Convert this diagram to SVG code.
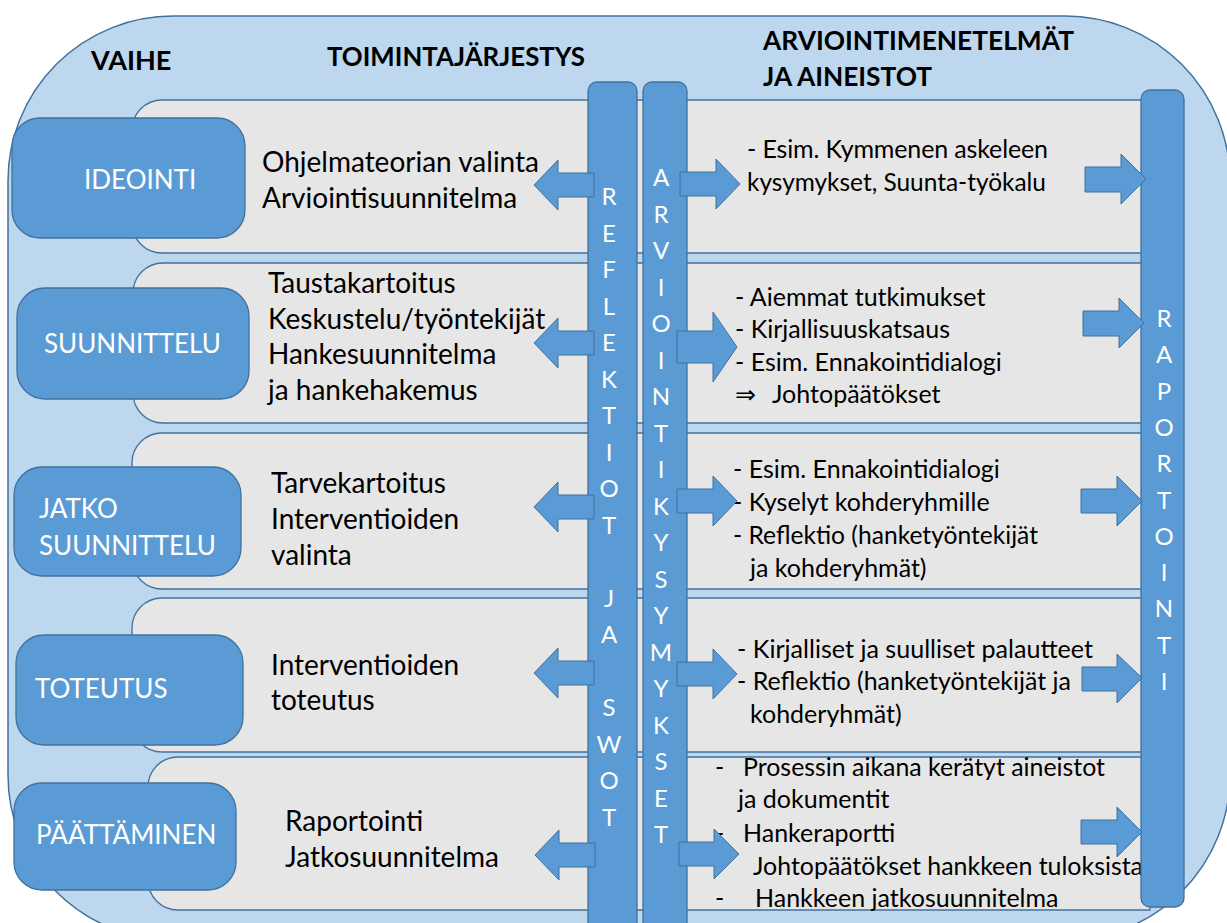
<svg xmlns="http://www.w3.org/2000/svg" width="1227" height="923" viewBox="0 0 1227 923">
<style>
.bg{fill:#BDD7EE;stroke:#41719C;stroke-width:1.5}
.row{fill:#E7E6E6;stroke:#41719C;stroke-width:1.3}
.phase{fill:#5B9BD5;stroke:#41719C;stroke-width:1.3}
.bar{fill:#5B9BD5;stroke:#41719C;stroke-width:1.3}
.arr{fill:#5B9BD5;stroke:#41719C;stroke-width:1}
.hd{font-family:Lato,"Liberation Sans",sans-serif;font-weight:bold;font-size:27px;fill:#000}
.lt{font-family:Lato,"Liberation Sans",sans-serif;font-size:28px;fill:#000}
.rt{font-family:Lato,"DejaVu Sans",sans-serif;font-size:25px;fill:#000}
.pl{font-family:Lato,"Liberation Sans",sans-serif;font-size:26px;fill:#fff}
.vl{font-family:Lato,"Liberation Sans",sans-serif;font-size:24px;fill:#fff;text-anchor:middle}
</style>
<g id="background">
<rect class="bg" x="8" y="16" width="1222" height="924" rx="165" ry="165"/>
</g>
<g id="headers">
<text class="hd" x="91" y="70" font-size="28">VAIHE</text>
<text class="hd" x="327" y="66" textLength="258" lengthAdjust="spacingAndGlyphs">TOIMINTAJÄRJESTYS</text>
<text class="hd" x="763" y="50" textLength="311" lengthAdjust="spacingAndGlyphs">ARVIOINTIMENETELMÄT</text>
<text class="hd" x="763" y="86" textLength="169" lengthAdjust="spacingAndGlyphs">JA AINEISTOT</text>
</g>
<g id="rows">
<path id="row-1" class="row" d="M162,100 H1150 V253 H162 A30,30 0 0 1 132,223 V130 A30,30 0 0 1 162,100 Z"/>
<path id="row-2" class="row" d="M163,263 H1150 V423 H163 A30,30 0 0 1 133,393 V293 A30,30 0 0 1 163,263 Z"/>
<path id="row-3" class="row" d="M162,433 H1150 V589 H162 A30,30 0 0 1 132,559 V463 A30,30 0 0 1 162,433 Z"/>
<path id="row-4" class="row" d="M162,598 H1150 V752 H162 A30,30 0 0 1 132,722 V628 A30,30 0 0 1 162,598 Z"/>
<path id="row-5" class="row" d="M178,757 H1150 V910 H178 A30,30 0 0 1 148,880 V787 A30,30 0 0 1 178,757 Z"/>
</g>
<g id="phase-ideointi">
<rect class="phase" x="12" y="118" width="233" height="120" rx="28"/>
<text class="pl" x="84" y="189">IDEOINTI</text>
</g>
<g id="phase-suunnittelu">
<rect class="phase" x="17" y="288" width="232" height="111" rx="28"/>
<text class="pl" x="44" y="353">SUUNNITTELU</text>
</g>
<g id="phase-jatkosuunnittelu">
<rect class="phase" x="14" y="467" width="227" height="109" rx="28"/>
<text class="pl" x="39" y="518">JATKO</text>
<text class="pl" x="39" y="555">SUUNNITTELU</text>
</g>
<g id="phase-toteutus">
<rect class="phase" x="16" y="635" width="227" height="110" rx="28"/>
<text class="pl" x="35" y="698">TOTEUTUS</text>
</g>
<g id="phase-paattaminen">
<rect class="phase" x="14" y="783" width="222" height="107" rx="28"/>
<text class="pl" x="36" y="844">PÄÄTTÄMINEN</text>
</g>
<g id="left-texts">
<text class="lt" x="262" y="172">Ohjelmateorian valinta</text>
<text class="lt" x="262" y="208">Arviointisuunnitelma</text>
<text class="lt" x="268" y="293">Taustakartoitus</text>
<text class="lt" x="268" y="329">Keskustelu/työntekijät</text>
<text class="lt" x="268" y="364">Hankesuunnitelma</text>
<text class="lt" x="268" y="400">ja hankehakemus</text>
<text class="lt" x="271" y="493">Tarvekartoitus</text>
<text class="lt" x="271" y="529">Interventioiden</text>
<text class="lt" x="271" y="565">valinta</text>
<text class="lt" x="271" y="675">Interventioiden</text>
<text class="lt" x="271" y="710">toteutus</text>
<text class="lt" x="285" y="831">Raportointi</text>
<text class="lt" x="285" y="867">Jatkosuunnitelma</text>
</g>
<g id="right-texts">
<text class="rt" x="747" y="158" textLength="301">- Esim. Kymmenen  askeleen</text>
<text class="rt" x="747" y="191" textLength="299" lengthAdjust="spacingAndGlyphs">kysymykset, Suunta-työkalu</text>
<text class="rt" x="735" y="306">- Aiemmat tutkimukset</text>
<text class="rt" x="735" y="338">- Kirjallisuuskatsaus</text>
<text class="rt" x="735" y="371">- Esim. Ennakointidialogi</text>
<text class="rt" x="735" y="403">⇒</text>
<text class="rt" x="772" y="403">Johtopäätökset</text>
<text class="rt" x="733" y="478">- Esim. Ennakointidialogi</text>
<text class="rt" x="733" y="511">- Kyselyt kohderyhmille</text>
<text class="rt" x="733" y="544" textLength="305" lengthAdjust="spacingAndGlyphs">- Reflektio (hanketyöntekijät</text>
<text class="rt" x="750" y="577">ja kohderyhmät)</text>
<text class="rt" x="737" y="658" textLength="356" lengthAdjust="spacingAndGlyphs">- Kirjalliset ja suulliset palautteet</text>
<text class="rt" x="737" y="690" textLength="334" lengthAdjust="spacingAndGlyphs">- Reflektio (hanketyöntekijät ja</text>
<text class="rt" x="750" y="723">kohderyhmät)</text>
<text class="rt" x="715" y="776">-</text>
<text class="rt" x="743" y="776" textLength="362" lengthAdjust="spacingAndGlyphs">Prosessin aikana kerätyt aineistot</text>
<text class="rt" x="738" y="808">ja dokumentit</text>
<text class="rt" x="715" y="842">-</text>
<text class="rt" x="743" y="842">Hankeraportti</text>
<text class="rt" x="715" y="875">-</text>
<text class="rt" x="753" y="875" textLength="390" lengthAdjust="spacingAndGlyphs">Johtopäätökset hankkeen tuloksista</text>
<text class="rt" x="715" y="907">-</text>
<text class="rt" x="755" y="907">Hankkeen jatkosuunnitelma</text>
</g>
<g id="bar-reflektiot">
<rect class="bar" x="588" y="82" width="49" height="870" rx="9"/>
<text class="vl" x="609"><tspan x="609" y="205">R</tspan><tspan x="609" y="241.5">E</tspan><tspan x="609" y="278">F</tspan><tspan x="609" y="314.5">L</tspan><tspan x="609" y="351">E</tspan><tspan x="609" y="387.5">K</tspan><tspan x="609" y="424">T</tspan><tspan x="609" y="460.5">I</tspan><tspan x="609" y="497">O</tspan><tspan x="609" y="533.5">T</tspan><tspan x="609" y="606.5">J</tspan><tspan x="609" y="643">A</tspan><tspan x="609" y="716">S</tspan><tspan x="609" y="752.5">W</tspan><tspan x="609" y="789">O</tspan><tspan x="609" y="825.5">T</tspan></text>
</g>
<g id="bar-arviointikysymykset">
<rect class="bar" x="643" y="82" width="44" height="870" rx="9"/>
<text class="vl" x="661"><tspan x="661" y="186">A</tspan><tspan x="661" y="222.5">R</tspan><tspan x="661" y="259">V</tspan><tspan x="661" y="295.5">I</tspan><tspan x="661" y="332">O</tspan><tspan x="661" y="368.5">I</tspan><tspan x="661" y="405">N</tspan><tspan x="661" y="441.5">T</tspan><tspan x="661" y="478">I</tspan><tspan x="661" y="514.5">K</tspan><tspan x="661" y="551">Y</tspan><tspan x="661" y="587.5">S</tspan><tspan x="661" y="624">Y</tspan><tspan x="661" y="660.5">M</tspan><tspan x="661" y="697">Y</tspan><tspan x="661" y="733.5">K</tspan><tspan x="661" y="770">S</tspan><tspan x="661" y="806.5">E</tspan><tspan x="661" y="843">T</tspan></text>
</g>
<g id="bar-raportointi">
<rect class="bar" x="1141" y="90" width="43" height="817" rx="9"/>
<text class="vl" x="1164"><tspan x="1164" y="327">R</tspan><tspan x="1164" y="363.3">A</tspan><tspan x="1164" y="399.6">P</tspan><tspan x="1164" y="435.9">O</tspan><tspan x="1164" y="472.2">R</tspan><tspan x="1164" y="508.5">T</tspan><tspan x="1164" y="544.8">O</tspan><tspan x="1164" y="581.1">I</tspan><tspan x="1164" y="617.4">N</tspan><tspan x="1164" y="653.7">T</tspan><tspan x="1164" y="690">I</tspan></text>
</g>
<g id="connectors">
<polygon class="arr" points="534,185 558,160 558,173 594,173 594,197 558,197 558,210"/>
<polygon class="arr" points="534,343 558,318 558,331 594,331 594,355 558,355 558,368"/>
<polygon class="arr" points="534,507 558,482 558,495 594,495 594,519 558,519 558,532"/>
<polygon class="arr" points="534,673 558,648 558,661 594,661 594,685 558,685 558,698"/>
<polygon class="arr" points="535,855 559,830 559,843 595,843 595,867 559,867 559,880"/>
<polygon class="arr" points="740,184 716,159 716,172 680,172 680,196 716,196 716,209"/>
<polygon class="arr" points="737,347 713,312 713,331 677,331 677,363 713,363 713,382"/>
<polygon class="arr" points="737,501 713,476 713,489 677,489 677,513 713,513 713,526"/>
<polygon class="arr" points="737,674 713,649 713,662 677,662 677,686 713,686 713,699"/>
<polygon class="arr" points="739,854 714,829 714,842 679,842 679,866 714,866 714,879"/>
<polygon class="arr" points="1146,179 1121,154 1121,167 1085,167 1085,192 1121,192 1121,204"/>
<polygon class="arr" points="1144,323 1119,298 1119,311 1083,311 1083,336 1119,336 1119,348"/>
<polygon class="arr" points="1142,501 1117,476 1117,489 1081,489 1081,513 1117,513 1117,526"/>
<polygon class="arr" points="1142,678 1117,654 1117,667 1082,667 1082,691 1117,691 1117,703"/>
<polygon class="arr" points="1142,832 1117,807 1117,820 1081,820 1081,844 1117,844 1117,857"/>
</g>
</svg>
